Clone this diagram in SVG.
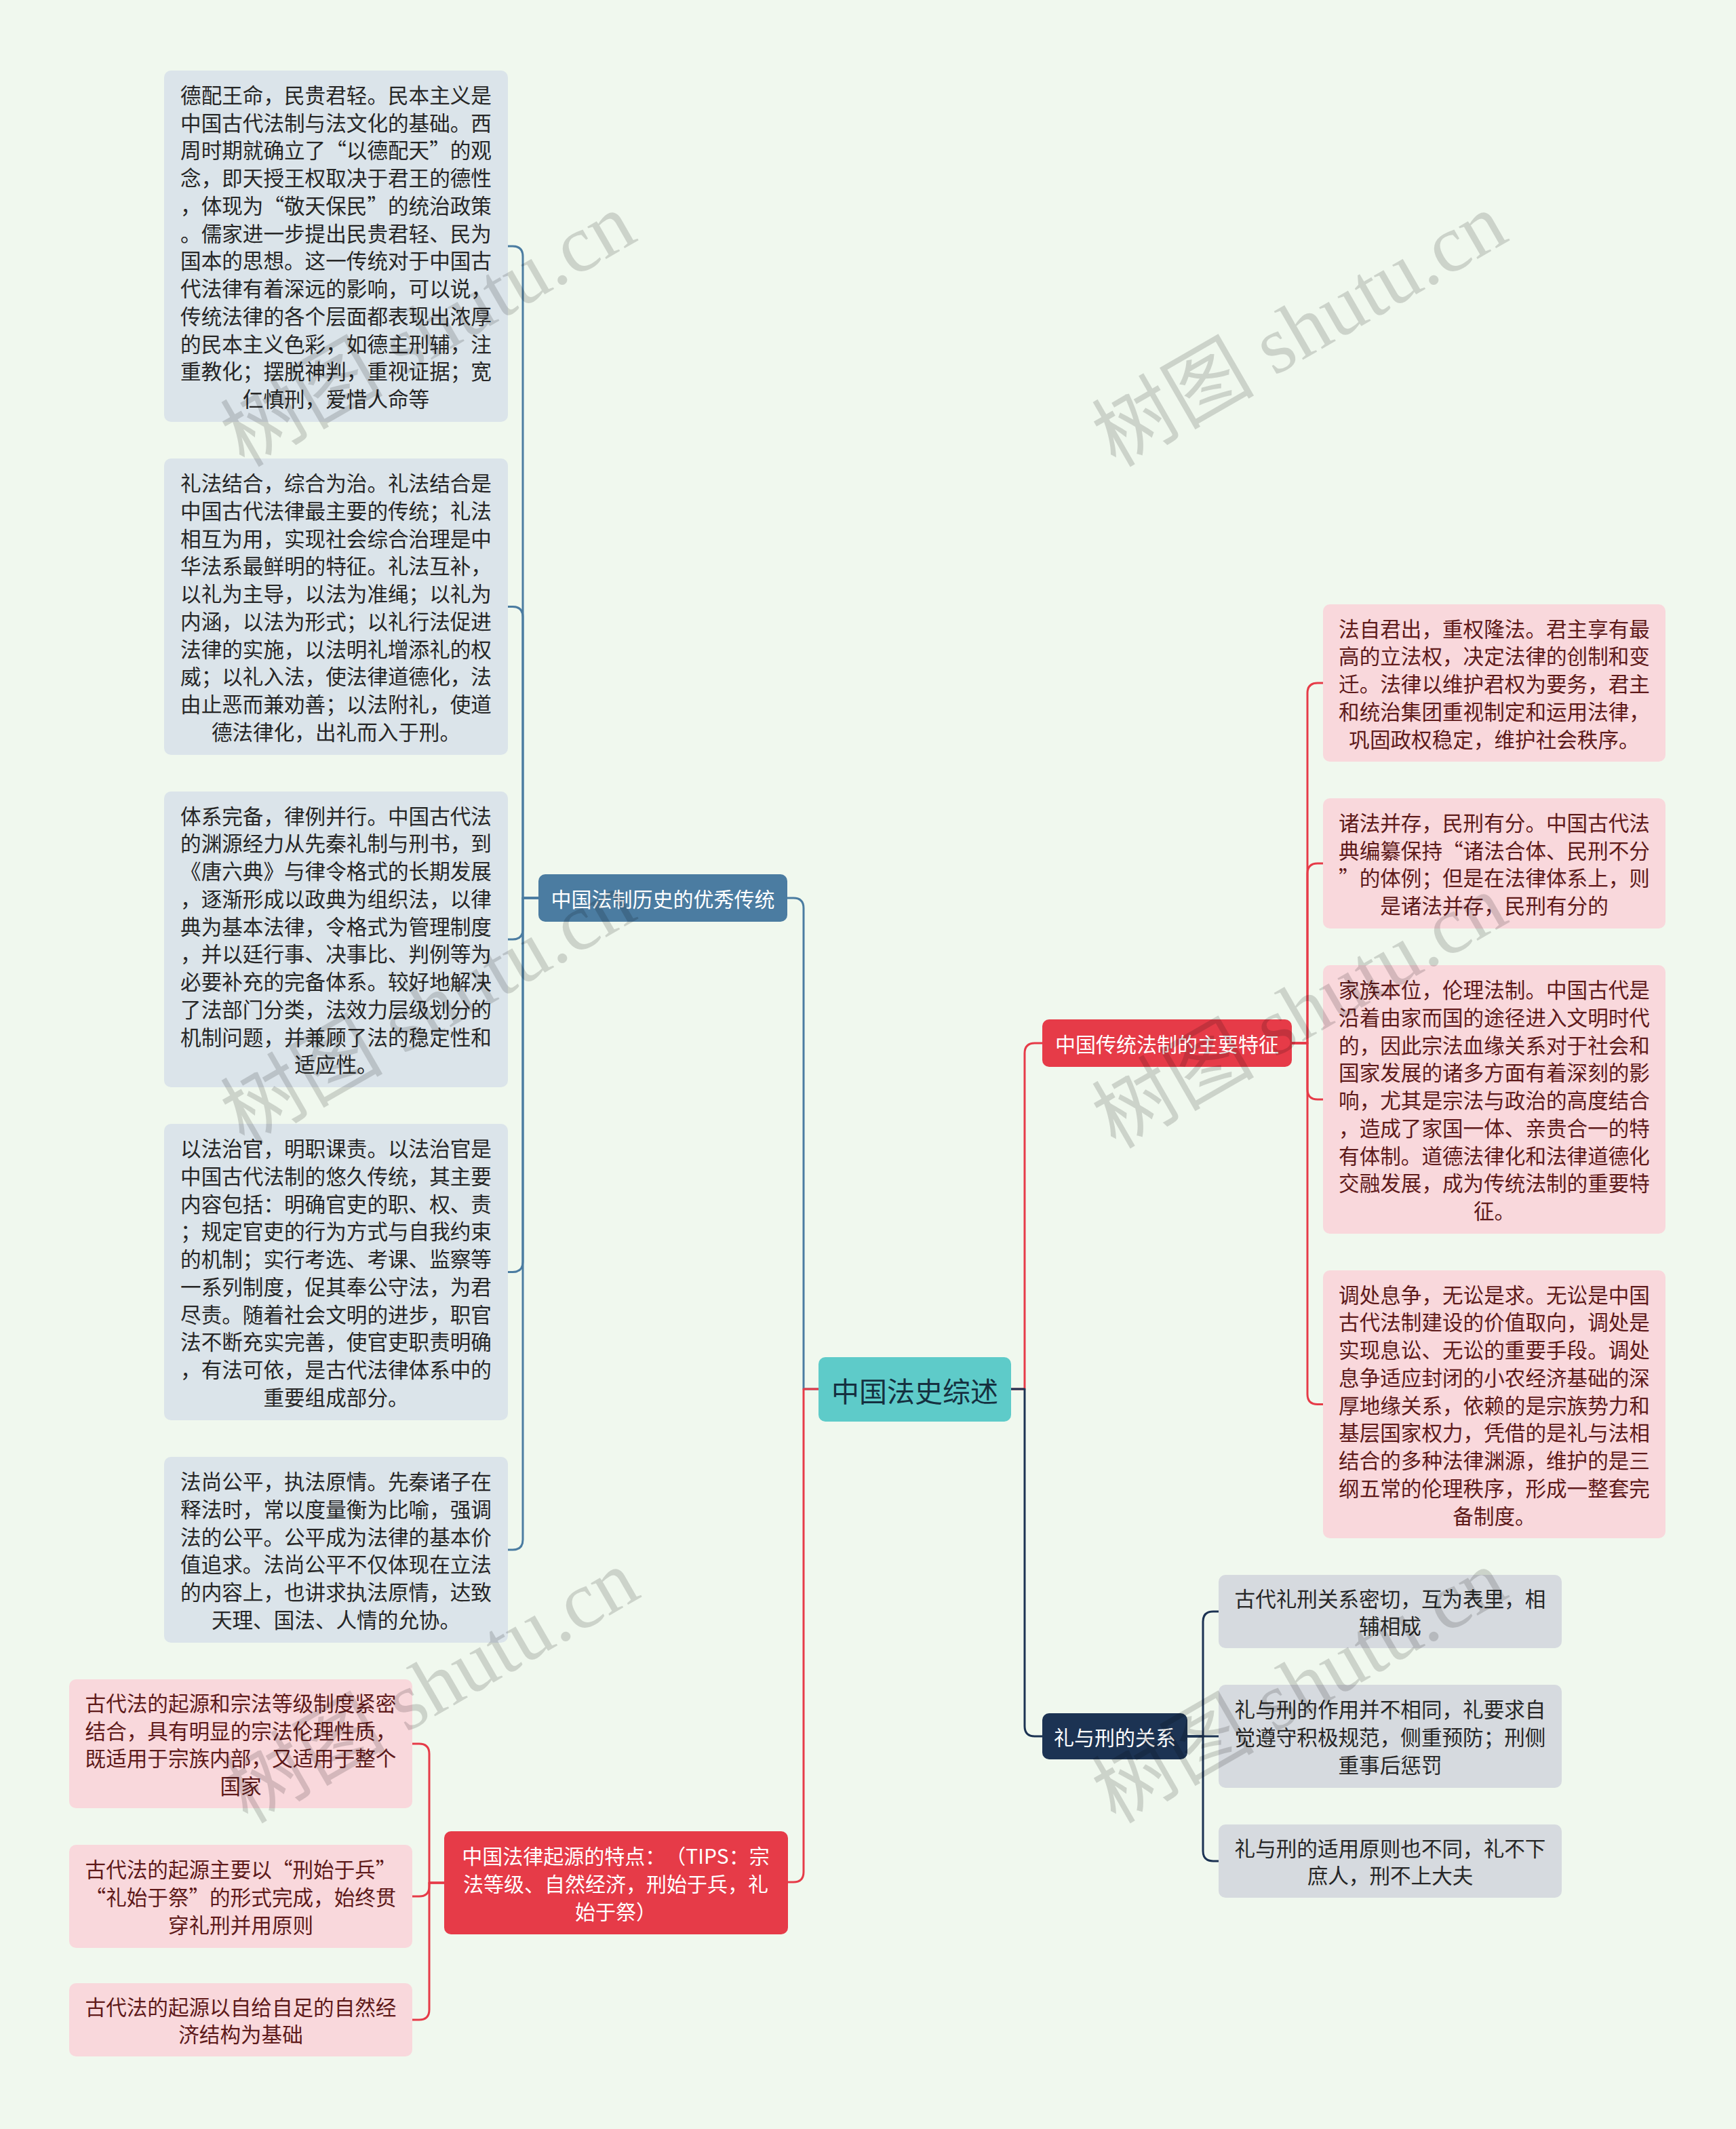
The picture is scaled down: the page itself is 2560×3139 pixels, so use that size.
<svg xmlns="http://www.w3.org/2000/svg" width="2560" height="3139" viewBox="0 0 2560 3139">
<style>
.t{font-family:"Noto Sans CJK SC","Liberation Sans",sans-serif;font-size:30.6px;text-anchor:middle;dominant-baseline:central;text-spacing-trim:space-all;font-feature-settings:"chws" 0,"halt" 0}
.tb{fill:#262626}.tp{fill:#5e1a1a}.tw{fill:#ffffff}
.lb{fill:#dbe4ea}.lp{fill:#f9d8dc}.lg{fill:#d6dadf}
.c{fill:none;stroke-width:3;stroke-linecap:round;stroke-linejoin:round}
.cb{stroke:#4b7ca1}.cr{stroke:#e63b48}.cn{stroke:#1c3353}
.wm{font-family:"Liberation Serif","Noto Sans CJK SC",serif;font-size:120px;fill:#000;fill-opacity:0.15}
</style>
<rect width="2560" height="3139" fill="#f0f8ee"/>
<g id="connectors">
<path class="c cb" d="M1207,2048 H1185 V1339 Q1185,1324 1170,1324 H1161"/>
<path class="c cr" d="M1207,2048 H1185 V2760 Q1185,2775 1170,2775 H1162"/>
<path class="c cr" d="M1491,2048 H1511 V1553 Q1511,1538 1526,1538 H1537"/>
<path class="c cn" d="M1491,2048 H1511 V2545 Q1511,2560 1526,2560 H1537"/>
<path class="c cb" d="M794,1324 H771 V378 Q771,363 756,363 H749"/>
<path class="c cb" d="M794,1324 H771 V909.5 Q771,894.5 756,894.5 H749"/>
<path class="c cb" d="M794,1324 H771 V1370 Q771,1385 756,1385 H749"/>
<path class="c cb" d="M794,1324 H771 V1860.5 Q771,1875.5 756,1875.5 H749"/>
<path class="c cb" d="M794,1324 H771 V2270 Q771,2285 756,2285 H749"/>
<path class="c cr" d="M655,2776 H633 V2586 Q633,2571 618,2571 H608"/>
<path class="c cr" d="M655,2776 H633 V2781 Q633,2796 618,2796 H608"/>
<path class="c cr" d="M655,2776 H633 V2963 Q633,2978 618,2978 H608"/>
<path class="c cr" d="M1905,1538 H1928 V1022 Q1928,1007 1943,1007 H1951"/>
<path class="c cr" d="M1905,1538 H1928 V1288 Q1928,1273 1943,1273 H1951"/>
<path class="c cr" d="M1905,1538 H1928 V1606 Q1928,1621 1943,1621 H1951"/>
<path class="c cr" d="M1905,1538 H1928 V2055.5 Q1928,2070.5 1943,2070.5 H1951"/>
<path class="c cn" d="M1751,2560 H1774 V2391 Q1774,2376 1789,2376 H1797"/>
<path class="c cn" d="M1751,2560 H1797"/>
<path class="c cn" d="M1751,2560 H1774 V2729 Q1774,2744 1789,2744 H1797"/>
</g>
<g id="root">
<rect x="1207" y="2001" width="284" height="95" rx="10" fill="#5ecbc9"/>
<text class="t" x="1349" y="2048.5" style="font-size:41px;fill:#153040">中国法史综述</text>
</g>
<g id="branch-tradition">
<rect x="794" y="1289" width="367" height="70" rx="10" fill="#4b7ca1"/>
<text class="t tw" x="977.5" y="1324" style="font-size:30px">中国法制历史的优秀传统</text>
</g>
<g id="branch-features">
<rect x="1537" y="1503" width="368" height="70" rx="10" fill="#e63b48"/>
<text class="t tw" x="1721" y="1538" style="font-size:30px">中国传统法制的主要特征</text>
</g>
<g id="branch-lixing">
<rect x="1537" y="2526" width="214" height="68" rx="10" fill="#1c3353"/>
<text class="t tw" x="1644" y="2560" style="font-size:30px">礼与刑的关系</text>
</g>
<g id="branch-origin">
<rect x="655" y="2700" width="507" height="152" rx="10" fill="#e63b48"/>
<text class="t tw" y="2735.25" style="font-size:30px"><tspan x="908">中国法律起源的特点：（TIPS：宗</tspan><tspan x="908" dy="40.75">法等级、自然经济，刑始于兵，礼</tspan><tspan x="908" dy="40.75">始于祭）</tspan></text>
</g>
<g id="leaf-b1">
<rect class="lb" x="242" y="104" width="507" height="518" rx="10"/>
<text class="t tb" y="138.9"><tspan x="495.5">德配王命，民贵君轻。民本主义是</tspan><tspan x="495.5" dy="40.75">中国古代法制与法文化的基础。西</tspan><tspan x="495.5" dy="40.75">周时期就确立了“以德配天”的观</tspan><tspan x="495.5" dy="40.75">念，即天授王权取决于君王的德性</tspan><tspan x="495.5" dy="40.75">，体现为“敬天保民”的统治政策</tspan><tspan x="495.5" dy="40.75">。儒家进一步提出民贵君轻、民为</tspan><tspan x="495.5" dy="40.75">国本的思想。这一传统对于中国古</tspan><tspan x="495.5" dy="40.75">代法律有着深远的影响，可以说，</tspan><tspan x="495.5" dy="40.75">传统法律的各个层面都表现出浓厚</tspan><tspan x="495.5" dy="40.75">的民本主义色彩，如德主刑辅，注</tspan><tspan x="495.5" dy="40.75">重教化；摆脱神判，重视证据；宽</tspan><tspan x="495.5" dy="40.75">仁慎刑，爱惜人命等</tspan></text>
</g>
<g id="leaf-b2">
<rect class="lb" x="242" y="676" width="507" height="437" rx="10"/>
<text class="t tb" y="711.1"><tspan x="495.5">礼法结合，综合为治。礼法结合是</tspan><tspan x="495.5" dy="40.75">中国古代法律最主要的传统；礼法</tspan><tspan x="495.5" dy="40.75">相互为用，实现社会综合治理是中</tspan><tspan x="495.5" dy="40.75">华法系最鲜明的特征。礼法互补，</tspan><tspan x="495.5" dy="40.75">以礼为主导，以法为准绳；以礼为</tspan><tspan x="495.5" dy="40.75">内涵，以法为形式；以礼行法促进</tspan><tspan x="495.5" dy="40.75">法律的实施，以法明礼增添礼的权</tspan><tspan x="495.5" dy="40.75">威；以礼入法，使法律道德化，法</tspan><tspan x="495.5" dy="40.75">由止恶而兼劝善；以法附礼，使道</tspan><tspan x="495.5" dy="40.75">德法律化，出礼而入于刑。</tspan></text>
</g>
<g id="leaf-b3">
<rect class="lb" x="242" y="1167" width="507" height="436" rx="10"/>
<text class="t tb" y="1201.6"><tspan x="495.5">体系完备，律例并行。中国古代法</tspan><tspan x="495.5" dy="40.75">的渊源经力从先秦礼制与刑书，到</tspan><tspan x="495.5" dy="40.75">《唐六典》与律令格式的长期发展</tspan><tspan x="495.5" dy="40.75">，逐渐形成以政典为组织法，以律</tspan><tspan x="495.5" dy="40.75">典为基本法律，令格式为管理制度</tspan><tspan x="495.5" dy="40.75">，并以廷行事、决事比、判例等为</tspan><tspan x="495.5" dy="40.75">必要补充的完备体系。较好地解决</tspan><tspan x="495.5" dy="40.75">了法部门分类，法效力层级划分的</tspan><tspan x="495.5" dy="40.75">机制问题，并兼顾了法的稳定性和</tspan><tspan x="495.5" dy="40.75">适应性。</tspan></text>
</g>
<g id="leaf-b4">
<rect class="lb" x="242" y="1657" width="507" height="437" rx="10"/>
<text class="t tb" y="1692.1"><tspan x="495.5">以法治官，明职课责。以法治官是</tspan><tspan x="495.5" dy="40.75">中国古代法制的悠久传统，其主要</tspan><tspan x="495.5" dy="40.75">内容包括：明确官吏的职、权、责</tspan><tspan x="495.5" dy="40.75">；规定官吏的行为方式与自我约束</tspan><tspan x="495.5" dy="40.75">的机制；实行考选、考课、监察等</tspan><tspan x="495.5" dy="40.75">一系列制度，促其奉公守法，为君</tspan><tspan x="495.5" dy="40.75">尽责。随着社会文明的进步，职官</tspan><tspan x="495.5" dy="40.75">法不断充实完善，使官吏职责明确</tspan><tspan x="495.5" dy="40.75">，有法可依，是古代法律体系中的</tspan><tspan x="495.5" dy="40.75">重要组成部分。</tspan></text>
</g>
<g id="leaf-b5">
<rect class="lb" x="242" y="2148" width="507" height="274" rx="10"/>
<text class="t tb" y="2183.1"><tspan x="495.5">法尚公平，执法原情。先秦诸子在</tspan><tspan x="495.5" dy="40.75">释法时，常以度量衡为比喻，强调</tspan><tspan x="495.5" dy="40.75">法的公平。公平成为法律的基本价</tspan><tspan x="495.5" dy="40.75">值追求。法尚公平不仅体现在立法</tspan><tspan x="495.5" dy="40.75">的内容上，也讲求执法原情，达致</tspan><tspan x="495.5" dy="40.75">天理、国法、人情的允协。</tspan></text>
</g>
<g id="leaf-r1">
<rect class="lp" x="1951" y="891" width="505" height="232" rx="10"/>
<text class="t tp" y="925.5"><tspan x="2203.5">法自君出，重权隆法。君主享有最</tspan><tspan x="2203.5" dy="40.75">高的立法权，决定法律的创制和变</tspan><tspan x="2203.5" dy="40.75">迁。法律以维护君权为要务，君主</tspan><tspan x="2203.5" dy="40.75">和统治集团重视制定和运用法律，</tspan><tspan x="2203.5" dy="40.75">巩固政权稳定，维护社会秩序。</tspan></text>
</g>
<g id="leaf-r2">
<rect class="lp" x="1951" y="1177" width="505" height="192" rx="10"/>
<text class="t tp" y="1211.9"><tspan x="2203.5">诸法并存，民刑有分。中国古代法</tspan><tspan x="2203.5" dy="40.75">典编纂保持“诸法合体、民刑不分</tspan><tspan x="2203.5" dy="40.75">”的体例；但是在法律体系上，则</tspan><tspan x="2203.5" dy="40.75">是诸法并存，民刑有分的</tspan></text>
</g>
<g id="leaf-r3">
<rect class="lp" x="1951" y="1423" width="505" height="396" rx="10"/>
<text class="t tp" y="1458"><tspan x="2203.5">家族本位，伦理法制。中国古代是</tspan><tspan x="2203.5" dy="40.75">沿着由家而国的途径进入文明时代</tspan><tspan x="2203.5" dy="40.75">的，因此宗法血缘关系对于社会和</tspan><tspan x="2203.5" dy="40.75">国家发展的诸多方面有着深刻的影</tspan><tspan x="2203.5" dy="40.75">响，尤其是宗法与政治的高度结合</tspan><tspan x="2203.5" dy="40.75">，造成了家国一体、亲贵合一的特</tspan><tspan x="2203.5" dy="40.75">有体制。道德法律化和法律道德化</tspan><tspan x="2203.5" dy="40.75">交融发展，成为传统法制的重要特</tspan><tspan x="2203.5" dy="40.75">征。</tspan></text>
</g>
<g id="leaf-r4">
<rect class="lp" x="1951" y="1873" width="505" height="395" rx="10"/>
<text class="t tp" y="1907.5"><tspan x="2203.5">调处息争，无讼是求。无讼是中国</tspan><tspan x="2203.5" dy="40.75">古代法制建设的价值取向，调处是</tspan><tspan x="2203.5" dy="40.75">实现息讼、无讼的重要手段。调处</tspan><tspan x="2203.5" dy="40.75">息争适应封闭的小农经济基础的深</tspan><tspan x="2203.5" dy="40.75">厚地缘关系，依赖的是宗族势力和</tspan><tspan x="2203.5" dy="40.75">基层国家权力，凭借的是礼与法相</tspan><tspan x="2203.5" dy="40.75">结合的多种法律渊源，维护的是三</tspan><tspan x="2203.5" dy="40.75">纲五常的伦理秩序，形成一整套完</tspan><tspan x="2203.5" dy="40.75">备制度。</tspan></text>
</g>
<g id="leaf-g1">
<rect class="lg" x="1797" y="2322" width="506" height="108" rx="10"/>
<text class="t tb" y="2355.6"><tspan x="2050">古代礼刑关系密切，互为表里，相</tspan><tspan x="2050" dy="40.75">辅相成</tspan></text>
</g>
<g id="leaf-g2">
<rect class="lg" x="1797" y="2484" width="506" height="152" rx="10"/>
<text class="t tb" y="2519.25"><tspan x="2050">礼与刑的作用并不相同，礼要求自</tspan><tspan x="2050" dy="40.75">觉遵守积极规范，侧重预防；刑侧</tspan><tspan x="2050" dy="40.75">重事后惩罚</tspan></text>
</g>
<g id="leaf-g3">
<rect class="lg" x="1797" y="2690" width="506" height="108" rx="10"/>
<text class="t tb" y="2723.6"><tspan x="2050">礼与刑的适用原则也不同，礼不下</tspan><tspan x="2050" dy="40.75">庶人，刑不上大夫</tspan></text>
</g>
<g id="leaf-p1">
<rect class="lp" x="102" y="2476" width="506" height="190" rx="10"/>
<text class="t tp" y="2509.9"><tspan x="355">古代法的起源和宗法等级制度紧密</tspan><tspan x="355" dy="40.75">结合，具有明显的宗法伦理性质，</tspan><tspan x="355" dy="40.75">既适用于宗族内部，又适用于整个</tspan><tspan x="355" dy="40.75">国家</tspan></text>
</g>
<g id="leaf-p2">
<rect class="lp" x="102" y="2720" width="506" height="152" rx="10"/>
<text class="t tp" y="2755.25"><tspan x="355">古代法的起源主要以“刑始于兵”</tspan><tspan x="355" dy="40.75">“礼始于祭”的形式完成，始终贯</tspan><tspan x="355" dy="40.75">穿礼刑并用原则</tspan></text>
</g>
<g id="leaf-p3">
<rect class="lp" x="102" y="2924" width="506" height="108" rx="10"/>
<text class="t tp" y="2957.6"><tspan x="355">古代法的起源以自给自足的自然经</tspan><tspan x="355" dy="40.75">济结构为基础</tspan></text>
</g>
<g id="watermarks">
<text class="wm" x="360" y="690" transform="rotate(-30 360 690)">树图 shutu.cn</text>
<text class="wm" x="1645" y="690" transform="rotate(-30 1645 690)">树图 shutu.cn</text>
<text class="wm" x="360" y="1690" transform="rotate(-30 360 1690)">树图 shutu.cn</text>
<text class="wm" x="1645" y="1695" transform="rotate(-30 1645 1695)">树图 shutu.cn</text>
<text class="wm" x="365" y="2690" transform="rotate(-30 365 2690)">树图 shutu.cn</text>
<text class="wm" x="1645" y="2690" transform="rotate(-30 1645 2690)">树图 shutu.cn</text>
</g>
</svg>
